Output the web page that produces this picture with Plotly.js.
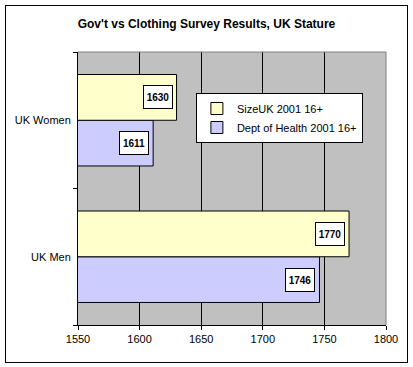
<!DOCTYPE html>
<html>
<head>
<meta charset="utf-8">
<script src="https://cdn.plot.ly/plotly-3.0.1.min.js"></script>
<style>
  html, body { margin: 0; padding: 0; background: #ffffff; }
  #wrap { position: relative; width: 413px; height: 367px; }
  #chart { width: 413px; height: 367px; }
  #frame { position: absolute; left: 5px; top: 5px; width: 401px; height: 356px;
           border: 1px solid #000; pointer-events: none; }
</style>
</head>
<body>
<div id="wrap">
  <div id="chart"></div>
  <div id="frame"></div>
</div>
<script>
// ---- Data ----
const categories = ['UK Men', 'UK Women'];
const deptName = 'Dept of Health 2001 16+';
const sizeukName = 'SizeUK 2001 16+';
const deptValues = [1746, 1611];
const sizeukValues = [1770, 1630];
const xTickValues = [1550, 1600, 1650, 1700, 1750, 1800];
const titleText = "Gov't vs Clothing Survey Results, UK Stature";

// ---- Layout constants ----
const W = 413, H = 367;
const margin = { l: 78, r: 27, t: 52, b: 42, pad: 0 };
const bargap = 0.33;
const plotH = H - margin.t - margin.b;
const catPx = plotH / categories.length;
const barOffset = catPx * (1 - bargap) / 4;
const font = 'Arial, "Liberation Sans", sans-serif';

const traces = [
  {
    type: 'bar', orientation: 'h', name: deptName,
    x: deptValues, y: categories,
    marker: { color: '#CCCCFF', line: { color: '#000000', width: 1 } },
    hoverinfo: 'x'
  },
  {
    type: 'bar', orientation: 'h', name: sizeukName,
    x: sizeukValues, y: categories,
    marker: { color: '#FFFFCC', line: { color: '#000000', width: 1 } },
    hoverinfo: 'x'
  }
];

const annotations = [];
function addLabels(values, shift) {
  values.forEach((v, i) => {
    annotations.push({
      x: v, y: categories[i], xref: 'x', yref: 'y',
      text: String(v), showarrow: false,
      xanchor: 'right', yanchor: 'middle',
      xshift: -4, yshift: shift,
      font: { family: font, size: 10, color: '#000', weight: 'bold' },
      bgcolor: '#ffffff', bordercolor: '#000000', borderwidth: 1,
      borderpad: 2, width: 24, height: 18
    });
  });
}
addLabels(deptValues, -barOffset);
addLabels(sizeukValues, barOffset);

const layout = {
  width: W, height: H,
  margin: margin,
  paper_bgcolor: '#ffffff',
  plot_bgcolor: '#C0C0C0',
  barmode: 'group',
  bargap: bargap,
  bargroupgap: 0,
  showlegend: true,
  font: { family: font, size: 11, color: '#000' },
  title: {
    text: '<b>' + titleText + '</b>',
    font: { family: font, size: 12, color: '#000' },
    x: 0.5, xref: 'container', xanchor: 'center',
    y: (H - 24) / H, yref: 'container', yanchor: 'middle'
  },
  xaxis: {
    range: [1550, 1800],
    tickvals: xTickValues,
    ticktext: xTickValues.map(String),
    showgrid: true, gridcolor: '#000000', gridwidth: 1,
    showline: true, linecolor: '#000000', linewidth: 1,
    ticks: 'outside', ticklen: 4, tickcolor: '#000000',
    zeroline: false, fixedrange: true,
    tickfont: { family: font, size: 11, color: '#000' }
  },
  yaxis: {
    type: 'category',
    categoryorder: 'array', categoryarray: categories,
    showgrid: false,
    showline: true, linecolor: '#000000', linewidth: 1,
    ticks: 'outside', ticklen: 4, tickcolor: '#000000',
    tickson: 'boundaries',
    ticklabelstandoff: 4,
    zeroline: false, fixedrange: true,
    tickfont: { family: font, size: 11, color: '#000' }
  },
  legend: {
    x: 0.925, xanchor: 'right', xref: 'paper',
    y: (H - margin.b - 93) / plotH, yanchor: 'top', yref: 'paper',
    bgcolor: '#ffffff', bordercolor: '#000000', borderwidth: 1,
    traceorder: 'reversed',
    font: { family: font, size: 11, color: '#000' }
  },
  annotations: annotations,
  shapes: [
    { type: 'line', xref: 'paper', yref: 'paper', x0: 0, x1: 1, y0: 1, y1: 1,
      line: { color: '#808080', width: 1 }, layer: 'above' },
    { type: 'line', xref: 'paper', yref: 'paper', x0: 1, x1: 1, y0: 0, y1: 1,
      line: { color: '#808080', width: 1 }, layer: 'above' }
  ]
};

Plotly.newPlot('chart', traces, layout, { displayModeBar: false, staticPlot: true });
</script>
</body>
</html>
